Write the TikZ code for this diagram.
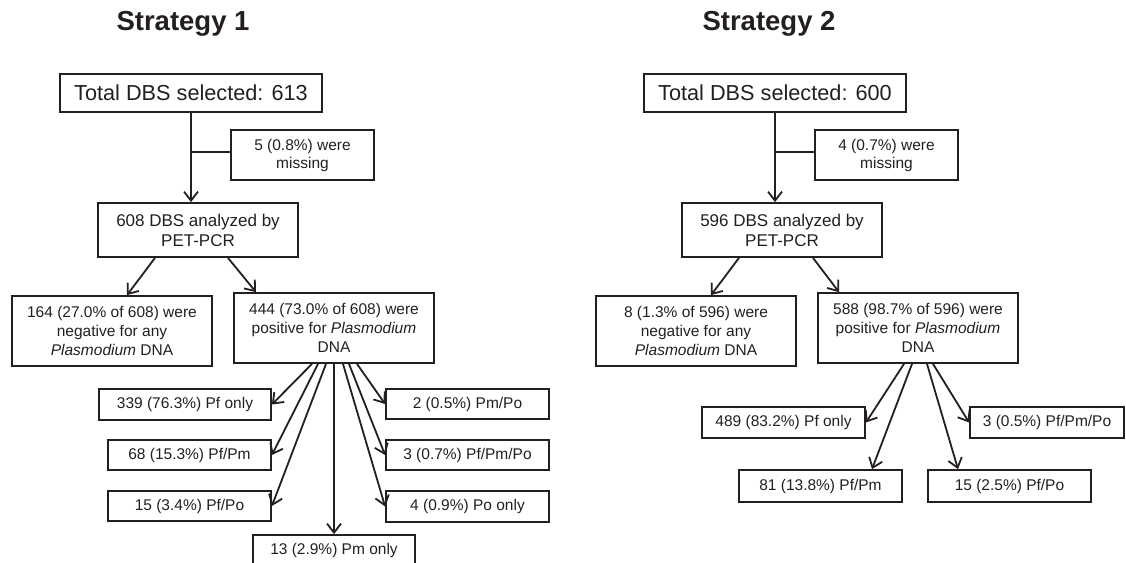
\documentclass[tikz,border=0pt]{standalone}
\usepackage{fontspec}
\setmainfont{Liberation Sans}
\usetikzlibrary{arrows.meta,calc}
\definecolor{ink}{HTML}{231F20}

\begin{document}
\begin{tikzpicture}[x=1pt,y=-1pt,
  box/.style={draw=ink, line width=1.8pt, rectangle, inner sep=0pt, align=center,
    text=ink, font=\fontsize{15.5}{19}\selectfont},
  bigbox/.style={box, font=\fontsize{21.7}{26}\selectfont},
  midbox/.style={box, font=\fontsize{17}{20}\selectfont},
  smallbox/.style={box, font=\fontsize{15.5}{18}\selectfont},
  sz/.style 2 args={minimum width=#1pt, minimum height=#2pt},
  heading/.style={text=ink, font=\bfseries\fontsize{27.5}{32}\selectfont},
  link/.style={draw=ink, line width=1.8pt},
  arr/.style={link, -{Straight Barb[length=9pt,width=14pt]}}]

\useasboundingbox (0,0) rectangle (1126,562);
\clip (0,0) rectangle (1126,562);

% ---------------- Strategy 1 ----------------
\node[heading] (t1) at (183,24) {Strategy 1};
\node[bigbox, sz={262}{38}] (tot1) at (191,93) {Total DBS selected: 613};
\node[smallbox, sz={143}{50}] (miss1) at (302.5,155) {5 (0.8\%) were\\missing};
\node[midbox, sz={200}{54}] (ana1) at (198,230) {608 DBS analyzed by\\PET-PCR};
\node[box, sz={200}{70}] (neg1) at (112,331) {164 (27.0\% of 608) were\\negative for any\\\textit{Plasmodium} DNA};
\node[box, sz={200}{70}] (pos1) at (334,328) {444 (73.0\% of 608) were\\positive for \textit{Plasmodium}\\DNA};

\node[box, sz={172}{31}] (pf1)     at (185,404.5) {339 (76.3\%) Pf only};
\node[box, sz={163}{30}] (pfpm1)   at (189.5,455) {68 (15.3\%) Pf/Pm};
\node[box, sz={163}{30}] (pfpo1)   at (189.5,506) {15 (3.4\%) Pf/Po};
\node[box, sz={162}{30}] (pm1)     at (334,550)   {13 (2.9\%) Pm only};
\node[box, sz={163}{30}] (pmpo1)   at (467.5,404) {2 (0.5\%) Pm/Po};
\node[box, sz={163}{30}] (pfpmpo1) at (467.5,455) {3 (0.7\%) Pf/Pm/Po};
\node[box, sz={163}{31}] (po1)     at (467.5,506.5) {4 (0.9\%) Po only};

\draw[arr] (tot1.south) -- (tot1.south |- ana1.north);
\draw[link] ([yshift=3pt]miss1.west) -- ([yshift=3pt]miss1.west -| tot1.south);
\draw[arr] ([xshift=-43pt]ana1.south) -- ([xshift=15pt]neg1.north);
\draw[arr] ([xshift=30pt]ana1.south) -- ([xshift=-78pt]pos1.north);

\draw[arr] ([xshift=-22pt]pos1.south) -- (pf1.east);
\draw[arr] ([xshift=-16pt]pos1.south) -- (pfpm1.east);
\draw[arr] ([xshift=-8pt]pos1.south)  -- (pfpo1.east);
\draw[arr] (pos1.south) -- (pm1.north);
\draw[arr] ([xshift=9pt]pos1.south)   -- (po1.west);
\draw[arr] ([xshift=15pt]pos1.south)  -- (pfpmpo1.west);
\draw[arr] ([xshift=23pt]pos1.south)  -- (pmpo1.west);

% ---------------- Strategy 2 ----------------
\node[heading] (t2) at (769,24) {Strategy 2};
\node[bigbox, sz={262}{38}] (tot2) at (775,93) {Total DBS selected: 600};
\node[smallbox, sz={143}{50}] (miss2) at (886.5,155) {4 (0.7\%) were\\missing};
\node[midbox, sz={200}{54}] (ana2) at (782,230) {596 DBS analyzed by\\PET-PCR};
\node[box, sz={200}{70}] (neg2) at (696,331) {8 (1.3\% of 596) were\\negative for any\\\textit{Plasmodium} DNA};
\node[box, sz={200}{70}] (pos2) at (918,328) {588 (98.7\% of 596) were\\positive for \textit{Plasmodium}\\DNA};

\node[box, sz={163}{31}] (pf2)     at (783.5,422.5) {489 (83.2\%) Pf only};
\node[box, sz={163}{32}] (pfpm2)   at (820.5,486)   {81 (13.8\%) Pf/Pm};
\node[box, sz={163}{32}] (pfpo2)   at (1009.5,486)  {15 (2.5\%) Pf/Po};
\node[box, sz={154}{31}] (pfpmpo2) at (1047,422.5)  {3 (0.5\%) Pf/Pm/Po};

\draw[arr] (tot2.south) -- (tot2.south |- ana2.north);
\draw[link] ([yshift=3pt]miss2.west) -- ([yshift=3pt]miss2.west -| tot2.south);
\draw[arr] ([xshift=-43pt]ana2.south) -- ([xshift=15pt]neg2.north);
\draw[arr] ([xshift=31pt]ana2.south) -- ([xshift=-79pt]pos2.north);

\draw[arr] ([xshift=-14pt]pos2.south) -- (pf2.east);
\draw[arr] ([xshift=-6pt]pos2.south)  -- ([xshift=51.5pt]pfpm2.north);
\draw[arr] ([xshift=9pt]pos2.south)   -- ([xshift=-51.5pt]pfpo2.north);
\draw[arr] ([xshift=15pt]pos2.south)  -- (pfpmpo2.west);
\end{tikzpicture}
\end{document}
